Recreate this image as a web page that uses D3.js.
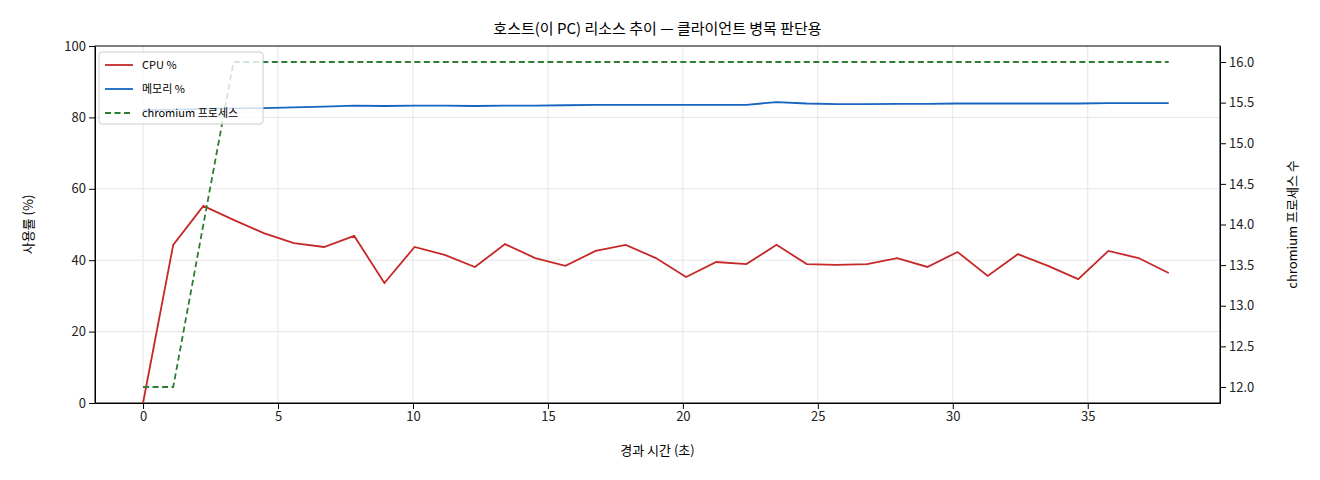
<!DOCTYPE html><html><head><meta charset="utf-8"><script src="https://cdn.jsdelivr.net/npm/d3@7"></script>
<style>body{margin:0;background:#fff}text{font-family:"Noto Sans CJK KR","Noto Sans",sans-serif}</style></head><body><svg id="c" width="1320" height="480"></svg>
<script>
const cpu=[0,44.3,55.2,51.3,47.6,44.8,43.7,46.8,33.6,43.7,41.5,38.1,44.5,40.6,38.4,42.6,44.3,40.6,35.3,39.5,38.9,44.3,38.9,38.7,38.9,40.6,38.1,42.3,35.6,41.7,38.4,34.7,42.6,40.6,36.4];
const mem=[82.0,82.2,82.4,82.5,82.6,82.8,83.0,83.3,83.2,83.3,83.3,83.2,83.3,83.3,83.4,83.5,83.5,83.5,83.5,83.5,83.5,84.3,83.9,83.7,83.7,83.8,83.8,83.9,83.9,83.9,83.9,83.9,84.0,84.0,84.0];
const procs=[12,12,14,16,16,16,16,16,16,16,16,16,16,16,16,16,16,16,16,16,16,16,16,16,16,16,16,16,16,16,16,16,16,16,16];
const step=38/34;
const t=cpu.map((_,i)=>i*step);
const svg=d3.select("#c");
const L=95,R=1220,T=46,B=403;
const x=d3.scaleLinear().domain([-1.78,39.9]).range([L,R]);
const y=d3.scaleLinear().domain([0,100]).range([B,T]);
const y2=d3.scaleLinear().domain([11.803,16.197]).range([B,T]);
const g=svg.append("g");
x.ticks(8).forEach(v=>g.append("line").attr("x1",x(v)).attr("x2",x(v)).attr("y1",T).attr("y2",B).attr("stroke","#e5e5e5"));
[20,40,60,80].forEach(v=>g.append("line").attr("x1",L).attr("x2",R).attr("y1",y(v)).attr("y2",y(v)).attr("stroke","#e5e5e5"));
const ax=(sel)=>sel.selectAll("text").attr("font-size",13).attr("fill","#222");
g.append("g").attr("transform",`translate(0,${B})`).call(d3.axisBottom(x).tickValues([0,5,10,15,20,25,30,35]).tickSizeOuter(0)).call(ax);
g.append("g").attr("transform",`translate(${L},0)`).call(d3.axisLeft(y).tickValues([0,20,40,60,80,100]).tickSizeOuter(0)).call(ax);
g.append("g").attr("transform",`translate(${R},0)`).call(d3.axisRight(y2).tickValues(d3.range(12,16.01,0.5)).tickFormat(d3.format(".1f")).tickSizeOuter(0)).call(ax);
g.append("rect").attr("x",L).attr("y",T).attr("width",R-L).attr("height",B-T).attr("fill","none").attr("stroke","#000");
const ln=(yy,d)=>d3.line().x((v,i)=>x(t[i])).y(v=>yy(v))(d);
g.append("path").attr("d",ln(y,cpu)).attr("fill","none").attr("stroke","#c62828").attr("stroke-width",1.8);
g.append("path").attr("d",ln(y,mem)).attr("fill","none").attr("stroke","#1565c0").attr("stroke-width",1.8);
g.append("path").attr("d",ln(y2,procs)).attr("fill","none").attr("stroke","#2e7d32").attr("stroke-width",1.8).attr("stroke-dasharray","6,3.5");
svg.append("text").attr("x",(L+R)/2).attr("y",34).attr("text-anchor","middle").attr("font-size",15).text("호스트(이 PC) 리소스 추이 — 클라이언트 병목 판단용");
svg.append("text").attr("x",(L+R)/2).attr("y",455).attr("text-anchor","middle").attr("font-size",13).text("경과 시간 (초)");
svg.append("text").attr("transform",`translate(33,${(T+B)/2}) rotate(-90)`).attr("text-anchor","middle").attr("font-size",13).text("사용률 (%)");
svg.append("text").attr("transform",`translate(1297,${(T+B)/2}) rotate(-90)`).attr("text-anchor","middle").attr("font-size",13).text("chromium 프로세스 수");
const lg=svg.append("g").attr("transform","translate(99,52)");
lg.append("rect").attr("width",164).attr("height",72).attr("rx",3).attr("fill","rgba(255,255,255,0.8)").attr("stroke","#ccc");
[["CPU %","#c62828",null],["메모리 %","#1565c0",null],["chromium 프로세스","#2e7d32","6,3.5"]].forEach((d,i)=>{
 const yy=13+i*24;
 lg.append("line").attr("x1",6).attr("x2",34).attr("y1",yy).attr("y2",yy).attr("stroke",d[1]).attr("stroke-width",1.8).attr("stroke-dasharray",d[2]);
 lg.append("text").attr("x",43).attr("y",yy+4).attr("font-size",11).text(d[0]);
});
</script></body></html>
